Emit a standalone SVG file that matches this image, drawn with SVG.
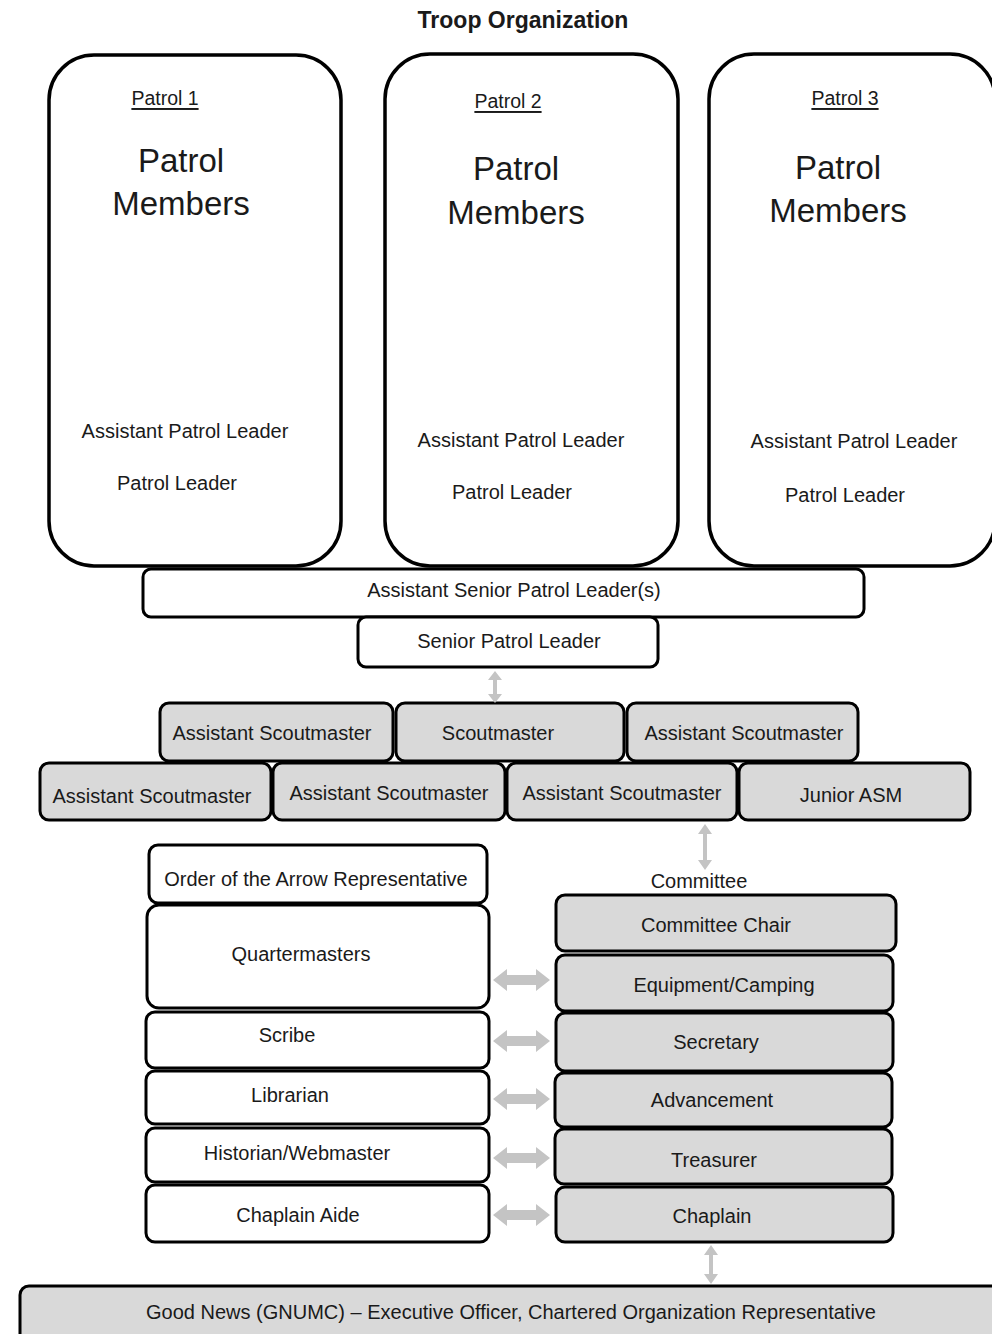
<svg xmlns="http://www.w3.org/2000/svg" width="992" height="1334" viewBox="0 0 992 1334">
<style>
text{font-family:"Liberation Sans",Arial,sans-serif;fill:#1a1a1a;text-anchor:middle;dominant-baseline:central}
.t{font-size:23px;font-weight:bold}
.p{fill:#fff;stroke:#000;stroke-width:3.5}
.w{fill:#fff;stroke:#000;stroke-width:3}
.g{fill:#d9d9d9;stroke:#000;stroke-width:3}
.l{font-size:20px}
.u{font-size:19.5px;text-decoration:underline}
.big{font-size:33px}
.ar{fill:#c4c4c4}
</style>
<rect width="992" height="1334" fill="#fff"/>
<text class="t" x="523" y="20">Troop Organization</text>

<g id="patrol1">
<rect class="p" x="49" y="55" width="292" height="511" rx="45"/>
<text class="u" x="165" y="98">Patrol 1</text>
<text class="big" x="181" y="160">Patrol</text>
<text class="big" x="181" y="203">Members</text>
<text class="l" x="185" y="431">Assistant Patrol Leader</text>
<text class="l" x="177" y="483">Patrol Leader</text>
</g>
<g id="patrol2">
<rect class="p" x="385" y="54" width="293" height="512" rx="45"/>
<text class="u" x="508" y="101">Patrol 2</text>
<text class="big" x="516" y="168">Patrol</text>
<text class="big" x="516" y="212">Members</text>
<text class="l" x="521" y="440">Assistant Patrol Leader</text>
<text class="l" x="512" y="492">Patrol Leader</text>
</g>
<g id="patrol3">
<rect class="p" x="709" y="54" width="286" height="512" rx="45"/>
<text class="u" x="845" y="98">Patrol 3</text>
<text class="big" x="838" y="167">Patrol</text>
<text class="big" x="838" y="210">Members</text>
<text class="l" x="854" y="441">Assistant Patrol Leader</text>
<text class="l" x="845" y="495">Patrol Leader</text>
</g>

<g id="aspl"><rect class="w" x="143" y="569" width="721" height="48" rx="8"/><text class="l" x="514" y="590">Assistant Senior Patrol Leader(s)</text></g>
<g id="spl"><rect class="w" x="358" y="617" width="300" height="50" rx="8"/><text class="l" x="509" y="641">Senior Patrol Leader</text></g>

<g id="asm1"><rect class="g" x="160" y="703" width="233" height="58" rx="9"/><text class="l" x="272" y="733">Assistant Scoutmaster</text></g>
<g id="sm"><rect class="g" x="396" y="703" width="228" height="58" rx="9"/><text class="l" x="498" y="733">Scoutmaster</text></g>
<g id="asm2"><rect class="g" x="627" y="703" width="231" height="58" rx="9"/><text class="l" x="744" y="733">Assistant Scoutmaster</text></g>
<g id="asm3"><rect class="g" x="40" y="763" width="231" height="57" rx="9"/><text class="l" x="152" y="796">Assistant Scoutmaster</text></g>
<g id="asm4"><rect class="g" x="273" y="763" width="232" height="57" rx="9"/><text class="l" x="389" y="793">Assistant Scoutmaster</text></g>
<g id="asm5"><rect class="g" x="507" y="763" width="230" height="57" rx="9"/><text class="l" x="622" y="793">Assistant Scoutmaster</text></g>
<g id="jasm"><rect class="g" x="739" y="763" width="231" height="57" rx="9"/><text class="l" x="851" y="795">Junior ASM</text></g>

<g id="committee-label"><text class="l" x="699" y="881">Committee</text></g>

<g id="oa"><rect class="w" x="149" y="845" width="338" height="58" rx="9"/><text class="l" x="316" y="879">Order of the Arrow Representative</text></g>
<g id="qm"><rect class="w" x="147" y="905" width="342" height="103" rx="12"/><text class="l" x="301" y="954">Quartermasters</text></g>
<g id="scribe"><rect class="w" x="146" y="1012" width="343" height="56" rx="9"/><text class="l" x="287" y="1035">Scribe</text></g>
<g id="librarian"><rect class="w" x="146" y="1071" width="343" height="53" rx="9"/><text class="l" x="290" y="1095">Librarian</text></g>
<g id="historian"><rect class="w" x="146" y="1128" width="343" height="54" rx="9"/><text class="l" x="297" y="1153">Historian/Webmaster</text></g>
<g id="chaplainaide"><rect class="w" x="146" y="1185" width="343" height="57" rx="9"/><text class="l" x="298" y="1215">Chaplain Aide</text></g>

<g id="chair"><rect class="g" x="556" y="895" width="340" height="56" rx="9"/><text class="l" x="716" y="925">Committee Chair</text></g>
<g id="equipment"><rect class="g" x="556" y="955" width="337" height="56" rx="9"/><text class="l" x="724" y="985">Equipment/Camping</text></g>
<g id="secretary"><rect class="g" x="556" y="1013" width="337" height="58" rx="9"/><text class="l" x="716" y="1042">Secretary</text></g>
<g id="advancement"><rect class="g" x="555" y="1073" width="337" height="54" rx="9"/><text class="l" x="712" y="1100">Advancement</text></g>
<g id="treasurer"><rect class="g" x="555" y="1129" width="337" height="55" rx="9"/><text class="l" x="714" y="1160">Treasurer</text></g>
<g id="chaplain"><rect class="g" x="556" y="1187" width="337" height="55" rx="9"/><text class="l" x="712" y="1216">Chaplain</text></g>

<g id="gnumc"><rect class="g" x="20" y="1286" width="990" height="60" rx="9"/><text class="l" x="511" y="1312">Good News (GNUMC) – Executive Officer, Chartered Organization Representative</text></g>

<g id="connectors">
<polygon class="ar" points="495,671 502,680 497,680 497,694 502,694 495,703 488,694 493,694 493,680 488,680"/>
<polygon class="ar" points="705,824 712,834 707,834 707,860 712,860 705,870 698,860 703,860 703,834 698,834"/>
<polygon class="ar" points="711,1245 718,1255 713,1255 713,1274 718,1274 711,1284 704,1274 709,1274 709,1255 704,1255"/>
<polygon class="ar" points="493,980 507,969 507,975 536,975 536,969 550,980 536,991 536,985 507,985 507,991"/>
<polygon class="ar" points="493,1041 507,1030 507,1036 536,1036 536,1030 550,1041 536,1052 536,1046 507,1046 507,1052"/>
<polygon class="ar" points="493,1099 507,1088 507,1094 536,1094 536,1088 550,1099 536,1110 536,1104 507,1104 507,1110"/>
<polygon class="ar" points="493,1158 507,1147 507,1153 536,1153 536,1147 550,1158 536,1169 536,1163 507,1163 507,1169"/>
<polygon class="ar" points="493,1215 507,1204 507,1210 536,1210 536,1204 550,1215 536,1226 536,1220 507,1220 507,1226"/>
</g>
</svg>
